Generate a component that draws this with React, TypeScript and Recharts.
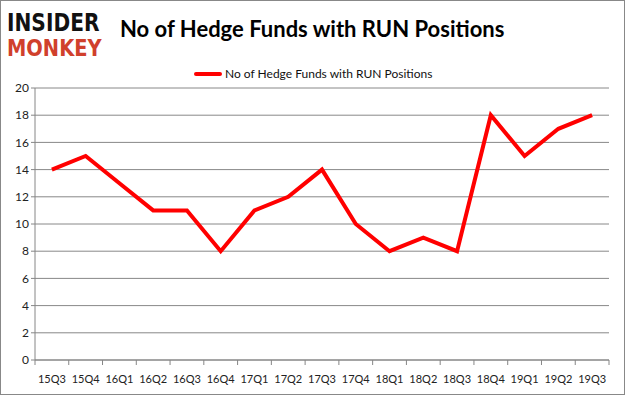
import React from "react";
import { LineChart, Line, XAxis, YAxis, CartesianGrid } from "recharts";

const categories = ["15Q3","15Q4","16Q1","16Q2","16Q3","16Q4","17Q1","17Q2","17Q3","17Q4","18Q1","18Q2","18Q3","18Q4","19Q1","19Q2","19Q3"];
const funds = [14, 15, 13, 11, 11, 8, 11, 12, 14, 10, 8, 9, 8, 18, 15, 17, 18];
const yTicks = [0, 2, 4, 6, 8, 10, 12, 14, 16, 18, 20];
const seriesName = "No of Hedge Funds with RUN Positions";
const title = "No of Hedge Funds with RUN Positions";

const data = categories.map((c, i) => ({ q: c, v: funds[i] }));

const W = 625, H = 395;
const PLOT_LEFT = 35, PLOT_RIGHT = 609;
const band = (PLOT_RIGHT - PLOT_LEFT) / categories.length;

const XTick = (props: any) => {
  const { x, y, payload, index } = props;
  const last = index === categories.length - 1;
  return (
    <g>
      <line x1={x - band / 2} x2={x - band / 2} y1={y - 8} y2={y - 3} stroke="#868686" />
      {last && <line x1={x + band / 2} x2={x + band / 2} y1={y - 8} y2={y - 3} stroke="#868686" />}
      <text x={x} y={y + 15} textAnchor="middle" fontSize={11} fill="#222" fontFamily="Lato, 'Open Sans', sans-serif">
        {payload.value}
      </text>
    </g>
  );
};

export default function App() {
  return (
    <div style={{ position: "absolute", top: 0, left: 0, width: W, height: H, background: "#fff", boxSizing: "border-box", border: "1px solid #888" }}>
      <div style={{ position: "absolute", left: 6, top: 9, fontFamily: "'DejaVu Sans', sans-serif", fontWeight: 900 }}>
        <div style={{ color: "#111", fontSize: 18, lineHeight: "18px", height: 18, transform: "scale(1.12, 1.4)", transformOrigin: "left top", whiteSpace: "nowrap" }}>INSIDER</div>
        <div style={{ color: "#d0402c", fontSize: 18, lineHeight: "16px", height: 16, transform: "scale(1.08, 1.25)", transformOrigin: "left top", whiteSpace: "nowrap", marginTop: 10 }}>MONKEY</div>
      </div>
      <div style={{ position: "absolute", left: 119, top: 14, fontFamily: "Lato, sans-serif", fontWeight: 700, fontSize: 22, color: "#000", whiteSpace: "nowrap" }}>
        {title}
      </div>
      <div style={{ position: "absolute", left: 193, top: 65, display: "flex", alignItems: "center", fontFamily: "Lato, sans-serif", fontSize: 12, color: "#111", whiteSpace: "nowrap" }}>
        <div style={{ width: 28, height: 4, background: "#ff0000", borderRadius: 2, marginRight: 3 }} />
        <span>{seriesName}</span>
      </div>
      <div style={{ position: "absolute", left: -1, top: -1 }}>
        <LineChart width={W} height={H} data={data} margin={{ top: 88, right: W - PLOT_RIGHT, bottom: 0, left: 0 }}>
          <CartesianGrid vertical={false} stroke="#888" strokeWidth={1} />
          <XAxis dataKey="q" height={35} axisLine={{ stroke: "#868686" }} tickLine={false} tick={<XTick />} interval={0} padding={{ left: band / 2, right: band / 2 }} />
          <YAxis
            width={PLOT_LEFT}
            domain={[0, 20]}
            ticks={yTicks}
            interval={0}
            axisLine={{ stroke: "#868686" }}
            tickLine={{ stroke: "#868686" }}
            tickSize={4}
            tick={{ fontSize: 12, fill: "#222", fontFamily: "Lato, sans-serif" }}
          />
          <Line type="linear" dataKey="v" stroke="#ff0000" strokeWidth={4} dot={false} isAnimationActive={false} strokeLinejoin="miter" />
        </LineChart>
      </div>
    </div>
  );
}
